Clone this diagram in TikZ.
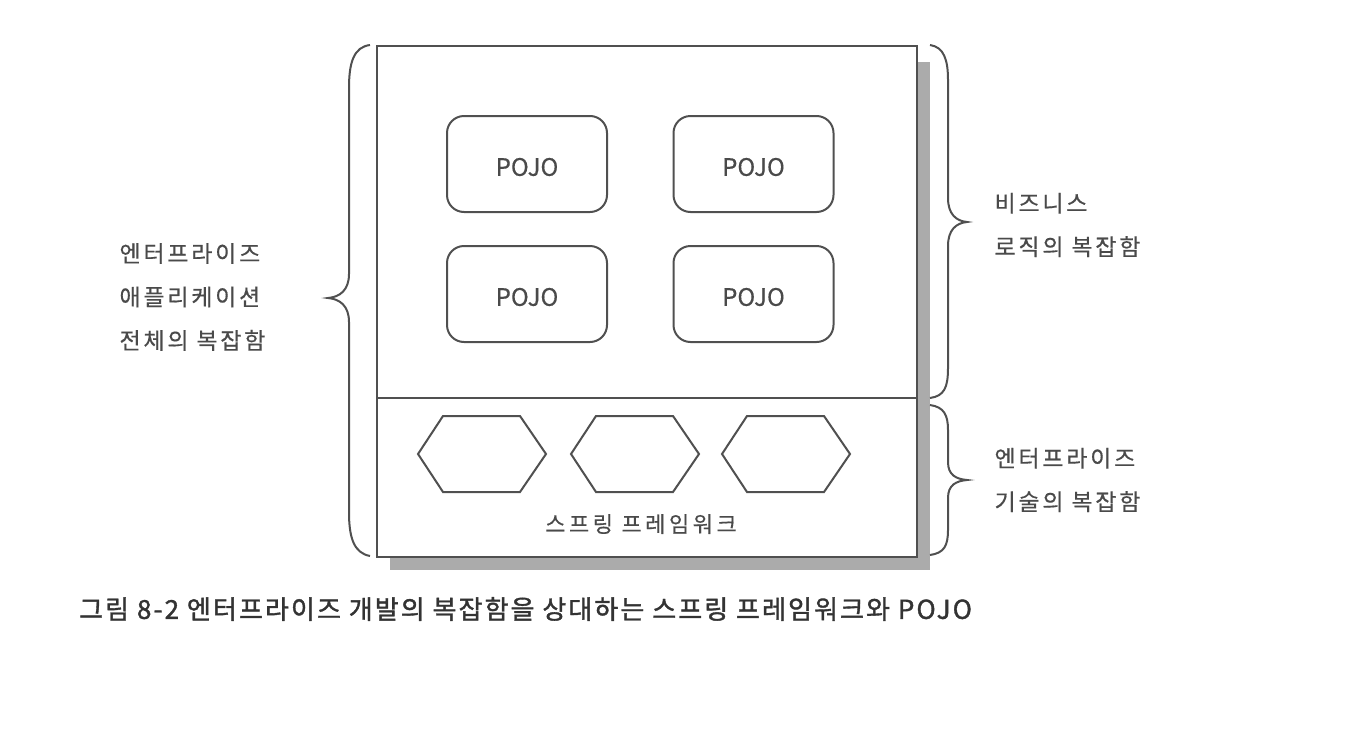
\documentclass[tikz,border=0pt]{standalone}
\usepackage{fontspec}
\setmainfont{Noto Sans CJK KR}
\newfontfamily\capfont[FakeBold=1.4, LetterSpace=8]{Noto Sans CJK KR}
\newfontfamily\labfont[LetterSpace=12, FakeBold=0.5]{Noto Sans CJK KR}
\newfontfamily\sffont[LetterSpace=16, FakeBold=0.5]{Noto Sans CJK KR}
\newfontfamily\pojofont[FakeBold=0.4]{Noto Sans CJK KR}
\definecolor{linec}{HTML}{505050}
\definecolor{shadowc}{HTML}{ABABAB}
\definecolor{textc}{HTML}{4A4A4A}
\tikzset{
  frame/.style={draw=linec, line width=2.4pt},
  pojo/.style={draw=linec, line width=2pt, rounded corners=17pt, minimum width=160pt, minimum height=96pt},
  pojotext/.style={font=\pojofont\fontsize{24}{28}\selectfont, text=textc},
  hexline/.style={draw=linec, line width=2pt, line join=miter},
  bracec/.style={draw=linec, line width=2pt},
  lab/.style={font=\labfont\fontsize{23}{43.5}\selectfont, text=textc, align=left, anchor=west},
}
\begin{document}
\begin{tikzpicture}[x=1pt,y=-1pt]
\useasboundingbox (0,0) rectangle (1352,734);
% shadow
\fill[shadowc] (390,62) rectangle (930,570);
% main box
\node[frame, fill=white, minimum width=540pt, minimum height=511pt, inner sep=0pt, anchor=north west] (main) at (376,45) {};
\coordinate (dl) at (376,398);
\coordinate (dr) at (916,398);
\draw[frame] (dl) -- (dr);
% POJO boxes
\node[pojo] (p1) at (527,164) {};
\node[pojo] (p2) at (753.5,164) {};
\node[pojo] (p3) at (527,294) {};
\node[pojo] (p4) at (753.5,294) {};
\node[pojotext] (t1) at ([yshift=-3pt]p1.center) {POJO};
\node[pojotext] (t2) at ([yshift=-3pt]p2.center) {POJO};
\node[pojotext] (t3) at ([yshift=-3pt]p3.center) {POJO};
\node[pojotext] (t4) at ([yshift=-3pt]p4.center) {POJO};
% hexagons
\foreach \n/\x in {1/418,2/571,3/722}{
  \draw[hexline] (\x,454) -- (\x+25,416) -- (\x+102,416) -- (\x+128,454) -- (\x+102,492) -- (\x+25,492) -- cycle;
}
\node[font=\sffont\fontsize{22}{26}\selectfont, text=textc] (sf) at (641,524) {스프링 프레임워크};
% left brace
\draw[bracec] (370,45) .. controls (354,47) and (349,62) .. (349,88) -- (349,274)
  .. controls (349,290) and (340,297) .. (328,298)
  .. controls (340,299) and (349,306) .. (349,322) -- (349,512)
  .. controls (349,538) and (354,553) .. (370,556);
% right brace top
\draw[bracec] (930,45) .. controls (944,47) and (948,60) .. (948,80) -- (948,198)
  .. controls (948,214) and (956,221) .. (967,222)
  .. controls (956,223) and (948,230) .. (948,246) -- (948,368)
  .. controls (948,388) and (944,396) .. (930,398);
% right brace bottom
\draw[bracec] (930,405) .. controls (944,407) and (948,415) .. (948,430) -- (948,462)
  .. controls (948,475) and (956,479) .. (967,480)
  .. controls (956,481) and (948,485) .. (948,498) -- (948,530)
  .. controls (948,546) and (944,553) .. (930,555);
% labels
\node[lab] (l1) at (116,297) {엔터프라이즈\\애플리케이션\\전체의 복잡함};
\node[lab] (r1) at (991,225) {비즈니스\\로직의 복잡함};
\node[lab] (r2) at (991,480) {엔터프라이즈\\기술의 복잡함};
% caption
\node[font=\capfont\fontsize{26}{30}\selectfont, text=black!80, anchor=west, inner sep=0pt] (cap) at (79,609) {그림 8-2 엔터프라이즈 개발의 복잡함을 상대하는 스프링 프레임워크와 POJO};
\end{tikzpicture}
\end{document}
